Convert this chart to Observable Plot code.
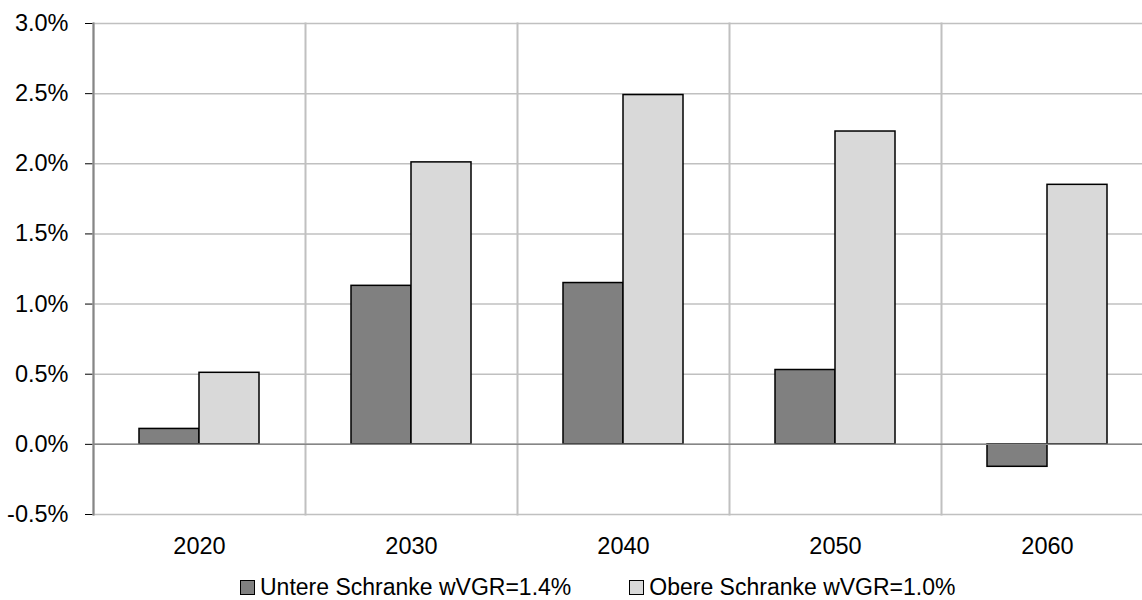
<!DOCTYPE html>
<html><head><meta charset="utf-8">
<script src="https://cdn.jsdelivr.net/npm/d3@7"></script>
<script src="https://cdn.jsdelivr.net/npm/@observablehq/plot@0.6"></script>
<style>
body{margin:0;background:#fff;font-family:"Liberation Sans",Arial,sans-serif;}
#wrap{width:1142px;height:600px;overflow:hidden;position:relative;background:#fff;}
#wrap svg{max-width:none !important;}
.legend{display:flex;align-items:center;font-size:23px;color:#000;margin-top:4px;padding-left:240px;line-height:22px;height:22px;white-space:nowrap;}
.item{display:flex;align-items:center;}
.sw{width:13px;height:13px;border:1px solid #000;margin-right:5px;}
</style></head><body><div id="wrap"></div>
<script>
const years = ["2020","2030","2040","2050","2060"];
const seriesNames = ["Untere Schranke wVGR=1.4%","Obere Schranke wVGR=1.0%"];
const lower = [0.11,1.13,1.15,0.53,-0.16];
const upper = [0.51,2.01,2.49,2.23,1.85];
const colors = ["#808080","#d9d9d9"];
const yTicks = [-0.5,0,0.5,1,1.5,2,2.5,3];

const data = years.flatMap((y,i)=>[
  {year:y, series:seriesNames[0], value:lower[i]},
  {year:y, series:seriesNames[1], value:upper[i]}
]);

const chart = Plot.plot({
  width:1160, height:572,
  marginLeft:93, marginRight:7, marginTop:23, marginBottom:58,
  style:{fontFamily:'"Liberation Sans",Arial,sans-serif', fontSize:"23.5px", color:"#000", background:"#fff", maxWidth:"none"},
  fx:{domain:years, padding:0, label:null, axis:"bottom", tickSize:0, tickPadding:23},
  x:{domain:seriesNames, padding:0, paddingOuter:0.75, axis:null},
  y:{domain:[-0.5,3], ticks:yTicks, tickFormat:d=>d.toFixed(1)+"%", tickSize:8, tickPadding:17, label:null},
  color:{domain:seriesNames, range:colors},
  marks:[
    Plot.ruleY(yTicks,{stroke:"#c0c0c0", strokeWidth:1.5}),
    Plot.frame({anchor:"left", stroke:"#c0c0c0", strokeWidth:2}),
    Plot.frame({anchor:"left", fx:[years[0]], stroke:"#868686", strokeWidth:2}),
    Plot.barY(data,{fx:"year", x:"series", y:"value", fill:"series", stroke:"#000", strokeWidth:1.5}),
    Plot.ruleY([0],{stroke:"#868686", strokeWidth:1.5})
  ]
});
const wrap = document.getElementById("wrap");
wrap.appendChild(chart);
const leg = document.createElement("div");
leg.className = "legend";
seriesNames.forEach((s,i)=>{
  const it = document.createElement("div");
  it.className="item";
  if(i>0) it.style.marginLeft="58px";
  const sw = document.createElement("div");
  sw.className="sw"; sw.style.background=colors[i];
  const t = document.createElement("span");
  t.textContent = s;
  it.appendChild(sw); it.appendChild(t);
  leg.appendChild(it);
});
wrap.appendChild(leg);
</script></body></html>
